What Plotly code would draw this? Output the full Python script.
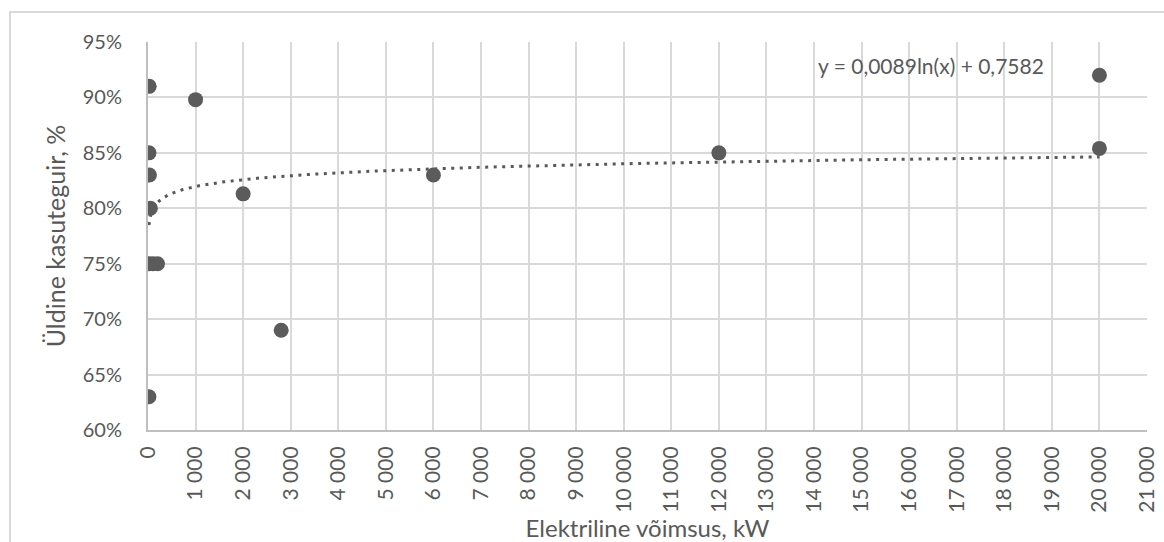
import numpy as np
import plotly.graph_objects as go

# Data (kW, efficiency fraction)
power_kw = [25, 1000, 20, 30, 50, 20, 100, 200, 20, 2000, 2800, 6000, 12000, 20000, 20000]
efficiency = [0.91, 0.898, 0.85, 0.83, 0.80, 0.75, 0.75, 0.75, 0.63, 0.813, 0.69, 0.83, 0.85, 0.92, 0.854]

# Logarithmic trend line coefficients (as shown on chart)
trend_a = 0.0089
trend_b = 0.7582
trend_label = "y = 0,0089ln(x) + 0,7582"

x_title = "Elektriline võimsus, kW"
y_title = "Üldine kasuteguir, %"

GRAY = "#595959"
MARK = "#5b5b5b"
GRID = "#d9d9d9"
AXIS = "#bfbfbf"
FONT = "Lato"

W, H = 1164, 542
L, R, T, B = 148, 17, 42, 112
pw, ph = W - L - R, H - T - B

tx = np.geomspace(min(power_kw), max(power_kw), 400)
ty = trend_a * np.log(tx) + trend_b

fig = go.Figure()
fig.add_trace(go.Scatter(
    x=tx, y=ty, mode="lines",
    line=dict(color=GRAY, width=3, dash="3px,5.5px"),
    hoverinfo="skip", showlegend=False,
))
fig.add_trace(go.Scatter(
    x=power_kw, y=efficiency, mode="markers",
    marker=dict(color=MARK, size=15, line=dict(width=0)),
    showlegend=False,
))

fig.update_layout(
    width=W, height=H,
    margin=dict(l=L, r=R, t=T, b=B, autoexpand=False),
    paper_bgcolor="white", plot_bgcolor="white",
    separators=", ",
    font=dict(family=FONT, color=GRAY, size=20),
    showlegend=False,
)

fig.update_xaxes(
    range=[0, 21000], dtick=1000, tick0=0, tickformat=",d",
    tickangle=-90, showgrid=True, gridcolor=GRID, gridwidth=2,
    showline=True, linecolor=AXIS, linewidth=2, zeroline=False,
    ticks="", ticklabelstandoff=6,
    tickfont=dict(family=FONT, size=21, color=GRAY),
    title=dict(text=x_title, font=dict(family=FONT, size=24, color=GRAY), standoff=0),
    automargin=False,
)
fig.update_yaxes(
    range=[0.6, 0.95], dtick=0.05, tick0=0.6, tickformat=".0%",
    showgrid=True, gridcolor=GRID, gridwidth=2,
    showline=True, linecolor=AXIS, linewidth=2, zeroline=False,
    ticks="", ticklabelstandoff=20,
    tickfont=dict(family=FONT, size=20, color=GRAY),
    title=dict(text=y_title, font=dict(family=FONT, size=25, color=GRAY), standoff=10),
    automargin=False,
)

# Outer chart border (partially outside window as in reference)
fig.add_shape(
    type="rect", xref="paper", yref="paper",
    x0=(10 - L) / pw, x1=(W + 20 - L) / pw,
    y0=-(B + 30) / ph, y1=(ph + T - 12) / ph,
    line=dict(color=GRID, width=2), fillcolor="rgba(0,0,0,0)", layer="below",
)

fig.add_annotation(
    text=trend_label, xref="paper", yref="paper",
    x=(931 - L) / pw, y=(ph + T - 65) / ph,
    xanchor="center", yanchor="middle", showarrow=False,
    font=dict(family=FONT, size=21, color=GRAY),
)

fig.write_html("out.html")
